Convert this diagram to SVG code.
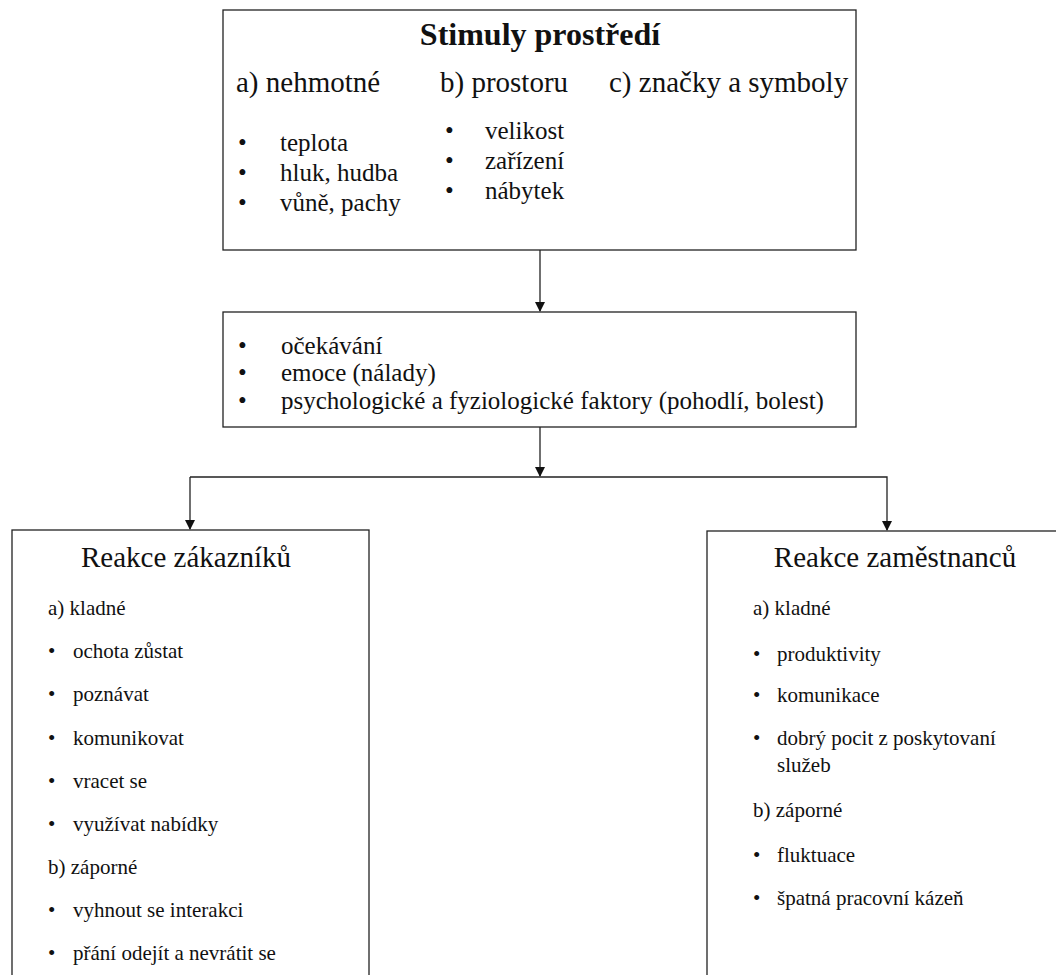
<svg xmlns="http://www.w3.org/2000/svg" width="1056" height="975" viewBox="0 0 1056 975">
<style>
text{font-family:"Liberation Serif","Times New Roman",serif;fill:#111}
.box{fill:#fff;stroke:#222;stroke-width:1.3}
.ln{fill:none;stroke:#222;stroke-width:1.3}
.t1{font-size:32px;font-weight:bold}
.h{font-size:29px}
.m{font-size:25px}
.mm{font-size:25px}
.s{font-size:21px}
.hs{font-size:29px}
</style>
<defs>
<marker id="ar" markerWidth="10" markerHeight="10" refX="9" refY="5" orient="auto" markerUnits="userSpaceOnUse">
<path d="M0,0 L10,5 L0,10 z" fill="#111"/>
</marker>
</defs>
<rect width="1056" height="975" fill="#fff"/>
<g id="connectors">
<line class="ln" x1="540" y1="250" x2="540" y2="311" marker-end="url(#ar)"/>
<line class="ln" x1="540" y1="427" x2="540" y2="476" marker-end="url(#ar)"/>
<polyline class="ln" points="190,477 887,477 887,530" marker-end="url(#ar)"/>
<line class="ln" x1="190" y1="477" x2="190" y2="529" marker-end="url(#ar)"/>
</g>
<g id="stimuly">
<rect class="box" x="223" y="10" width="633" height="240"/>
<text class="t1" x="540" y="45" text-anchor="middle">Stimuly prostředí</text>
<text class="h" x="236" y="92">a) nehmotné</text>
<text class="h" x="440" y="92">b) prostoru</text>
<text class="h" x="609" y="92">c) značky a symboly</text>
<text class="m" x="238" y="151">•</text><text class="m" x="280" y="151">teplota</text>
<text class="m" x="238" y="181">•</text><text class="m" x="280" y="181">hluk, hudba</text>
<text class="m" x="238" y="211">•</text><text class="m" x="280" y="211">vůně, pachy</text>
<text class="m" x="445" y="139">•</text><text class="m" x="485" y="139">velikost</text>
<text class="m" x="445" y="169">•</text><text class="m" x="485" y="169">zařízení</text>
<text class="m" x="445" y="199">•</text><text class="m" x="485" y="199">nábytek</text>
</g>
<g id="faktory">
<rect class="box" x="223" y="312" width="633" height="115"/>
<text class="mm" x="238" y="354">•</text><text class="mm" x="281" y="354">očekávání</text>
<text class="mm" x="238" y="381">•</text><text class="mm" x="281" y="381">emoce (nálady)</text>
<text class="mm" x="238" y="409">•</text><text class="mm" x="281" y="409">psychologické a fyziologické faktory (pohodlí, bolest)</text>
</g>
<g id="zakaznici">
<rect class="box" x="12" y="530" width="357" height="460"/>
<text class="hs" x="186" y="567" text-anchor="middle">Reakce zákazníků</text>
<text class="s" x="48" y="615">a) kladné</text>
<text class="s" x="48" y="658">•</text><text class="s" x="73" y="658">ochota zůstat</text>
<text class="s" x="48" y="701">•</text><text class="s" x="73" y="701">poznávat</text>
<text class="s" x="48" y="745">•</text><text class="s" x="73" y="745">komunikovat</text>
<text class="s" x="48" y="788">•</text><text class="s" x="73" y="788">vracet se</text>
<text class="s" x="48" y="831">•</text><text class="s" x="73" y="831">využívat nabídky</text>
<text class="s" x="48" y="874">b) záporné</text>
<text class="s" x="48" y="917">•</text><text class="s" x="73" y="917">vyhnout se interakci</text>
<text class="s" x="48" y="960">•</text><text class="s" x="73" y="960">přání odejít a nevrátit se</text>
</g>
<g id="zamestnanci">
<rect class="box" x="707" y="531" width="360" height="460"/>
<text class="hs" x="895" y="567" text-anchor="middle">Reakce zaměstnanců</text>
<text class="s" x="753" y="615">a) kladné</text>
<text class="s" x="753" y="661">•</text><text class="s" x="777" y="661">produktivity</text>
<text class="s" x="753" y="702">•</text><text class="s" x="777" y="702">komunikace</text>
<text class="s" x="753" y="745">•</text><text class="s" x="777" y="745">dobrý pocit z poskytovaní</text>
<text class="s" x="777" y="772">služeb</text>
<text class="s" x="753" y="817">b) záporné</text>
<text class="s" x="753" y="862">•</text><text class="s" x="777" y="862">fluktuace</text>
<text class="s" x="753" y="905">•</text><text class="s" x="777" y="905">špatná pracovní kázeň</text>
</g>
</svg>
